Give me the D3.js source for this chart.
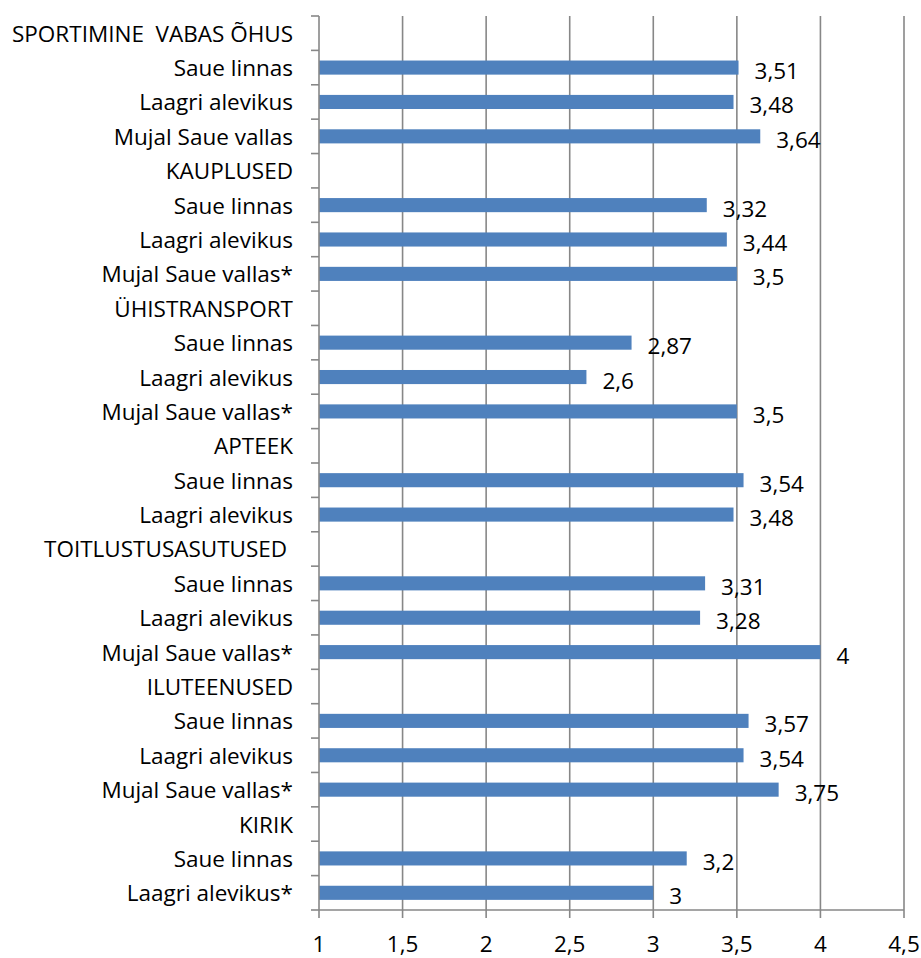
<!DOCTYPE html>
<html>
<head>
<meta charset="utf-8">
<script src="https://cdn.jsdelivr.net/npm/d3@7"></script>
<style>
html,body{margin:0;padding:0;background:#fff;}
svg text{font-family:"Open Sans",Lato,sans-serif;fill:#000;white-space:pre;}
</style>
</head>
<body>
<svg id="chart" width="921" height="958"></svg>
<script>
const categories = [
  "SPORTIMINE  VABAS ÕHUS", "Saue linnas", "Laagri alevikus", "Mujal Saue vallas",
  "KAUPLUSED", "Saue linnas", "Laagri alevikus", "Mujal Saue vallas*",
  "ÜHISTRANSPORT", "Saue linnas", "Laagri alevikus", "Mujal Saue vallas*",
  "APTEEK", "Saue linnas", "Laagri alevikus",
  "TOITLUSTUSASUTUSED ", "Saue linnas", "Laagri alevikus", "Mujal Saue vallas*",
  "ILUTEENUSED", "Saue linnas", "Laagri alevikus", "Mujal Saue vallas*",
  "KIRIK", "Saue linnas", "Laagri alevikus*"
];
const values = [
  null, 3.51, 3.48, 3.64,
  null, 3.32, 3.44, 3.5,
  null, 2.87, 2.6, 3.5,
  null, 3.54, 3.48,
  null, 3.31, 3.28, 4,
  null, 3.57, 3.54, 3.75,
  null, 3.2, 3
];
const xTicks = [1, 1.5, 2, 2.5, 3, 3.5, 4, 4.5];

(function () {
const svg = d3.select("#chart");
const pLeft = 319, pRight = 904, pTop = 16, pBottom = 910;
const fs = 22.5;
const fmt = v => String(v).replace(".", ",");

const x = d3.scaleLinear().domain([1, 4.5]).range([pLeft, pRight]);
const y = d3.scaleBand().domain(d3.range(categories.length)).range([pTop, pBottom])
  .paddingInner(0.59).paddingOuter(0.295);
const step = y.step();

// gridlines
svg.append("g").selectAll("line").data(xTicks.slice(1)).join("line")
  .attr("x1", d => x(d)).attr("x2", d => x(d))
  .attr("y1", pTop).attr("y2", pBottom + 8)
  .attr("stroke", "#878787").attr("stroke-width", 1.6);

// bars
const rows = categories.map((c, i) => ({c, v: values[i], i}));
svg.append("g").selectAll("rect").data(rows.filter(d => d.v != null)).join("rect")
  .attr("x", x(1)).attr("y", d => y(d.i))
  .attr("width", d => x(d.v) - x(1)).attr("height", y.bandwidth())
  .attr("fill", "#4F81BD");

// value labels
svg.append("g").selectAll("text").data(rows.filter(d => d.v != null)).join("text")
  .attr("x", d => x(d.v) + 16).attr("y", d => y(d.i) + y.bandwidth() / 2 + 3)
  .attr("dominant-baseline", "central")
  .attr("font-size", fs)
  .text(d => fmt(d.v));

// axes lines
svg.append("line").attr("x1", pLeft).attr("x2", pLeft).attr("y1", pTop).attr("y2", pBottom)
  .attr("stroke", "#878787").attr("stroke-width", 1.6);
svg.append("line").attr("x1", pLeft).attr("x2", pRight).attr("y1", pBottom).attr("y2", pBottom)
  .attr("stroke", "#878787").attr("stroke-width", 1.6);

// y tick marks between categories
svg.append("g").selectAll("line").data(d3.range(categories.length + 1)).join("line")
  .attr("x1", pLeft - 8).attr("x2", pLeft)
  .attr("y1", d => pTop + d * step).attr("y2", d => pTop + d * step)
  .attr("stroke", "#878787").attr("stroke-width", 1.6);

// x tick mark at 1
svg.append("line").attr("x1", pLeft).attr("x2", pLeft).attr("y1", pBottom).attr("y2", pBottom + 8)
  .attr("stroke", "#878787").attr("stroke-width", 1.6);

// category labels
svg.append("g").selectAll("text").data(rows).join("text")
  .attr("x", 293).attr("y", d => y(d.i) + y.bandwidth() / 2)
  .attr("text-anchor", "end").attr("dominant-baseline", "central")
  .attr("font-size", fs)
  .text(d => d.c);

// x tick labels
svg.append("g").selectAll("text").data(xTicks).join("text")
  .attr("x", d => x(d)).attr("y", 943)
  .attr("text-anchor", "middle").attr("dominant-baseline", "central")
  .attr("font-size", fs)
  .text(d => fmt(d));
})();
</script>
</body>
</html>
